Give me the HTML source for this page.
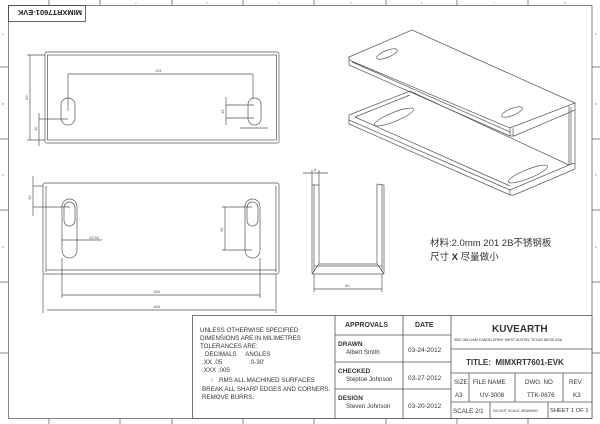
<!DOCTYPE html>
<html><head><meta charset="utf-8"><style>
html,body{margin:0;padding:0;background:#fff;}
svg{display:block;font-family:"Liberation Sans","Noto Sans CJK SC",sans-serif;}
</style></head><body>
<svg width="600" height="424" viewBox="0 0 600 424" xmlns="http://www.w3.org/2000/svg">
<rect x="0" y="0" width="600" height="424" fill="#fff"/>
<g stroke="#666" stroke-width="0.8" fill="none">
<rect x="8.5" y="5.5" width="583.5" height="413"/>
<line x1="49" y1="0" x2="49" y2="5"/><line x1="100" y1="0" x2="100" y2="5"/><line x1="172" y1="0" x2="172" y2="5"/><line x1="243" y1="0" x2="243" y2="5"/><line x1="314" y1="0" x2="314" y2="5"/><line x1="386" y1="0" x2="386" y2="5"/><line x1="457" y1="0" x2="457" y2="5"/><line x1="528" y1="0" x2="528" y2="5"/>
<line x1="49" y1="419" x2="49" y2="424"/><line x1="120" y1="419" x2="120" y2="424"/><line x1="172" y1="419" x2="172" y2="424"/><line x1="243" y1="419" x2="243" y2="424"/><line x1="314" y1="419" x2="314" y2="424"/><line x1="386" y1="419" x2="386" y2="424"/><line x1="457" y1="419" x2="457" y2="424"/><line x1="528" y1="419" x2="528" y2="424"/>
<line x1="0" y1="67" x2="8" y2="67"/><line x1="0" y1="139" x2="8" y2="139"/><line x1="0" y1="210" x2="8" y2="210"/><line x1="0" y1="282" x2="8" y2="282"/><line x1="0" y1="353" x2="8" y2="353"/>
<line x1="592" y1="67" x2="600" y2="67"/><line x1="592" y1="139" x2="600" y2="139"/><line x1="592" y1="210" x2="600" y2="210"/><line x1="592" y1="282" x2="600" y2="282"/><line x1="592" y1="353" x2="600" y2="353"/>
</g>
<g font-size="3" fill="#888">
<text x="48" y="4">1</text><text x="135" y="4">2</text><text x="206" y="4">3</text><text x="278" y="4">4</text><text x="350" y="4">5</text><text x="421" y="4">6</text><text x="493" y="4">7</text><text x="564" y="4">8</text>
<text x="2" y="35">A</text><text x="2" y="105">B</text><text x="2" y="176">C</text><text x="2" y="248">D</text>
<text x="595" y="35">A</text><text x="595" y="105">B</text><text x="595" y="176">C</text><text x="595" y="248">D</text>
</g>
<rect x="8.5" y="5.5" width="77" height="16" fill="none" stroke="#444" stroke-width="0.8"/>
<text transform="translate(82,10) rotate(180)" font-size="7.5" font-weight="bold" fill="#222">MIMXRT7601-EVK</text>

<g stroke="#555" stroke-width="0.7" fill="none">
<rect x="45" y="52" width="234" height="91" rx="2"/>
<rect x="47.5" y="55" width="229" height="85"/>
<rect x="61" y="98" width="14" height="27" rx="7"/>
<rect x="248" y="98" width="13" height="27" rx="6.5"/>
<line x1="68" y1="74" x2="253" y2="74"/><line x1="68" y1="74" x2="68" y2="111"/><line x1="253" y1="74" x2="253" y2="98"/>
<line x1="30" y1="55" x2="30" y2="140"/><line x1="27" y1="55" x2="45" y2="55"/><line x1="27" y1="140" x2="45" y2="140"/>
<line x1="39" y1="113" x2="39" y2="146"/><line x1="39" y1="119" x2="68" y2="119"/>
<line x1="226" y1="97" x2="226" y2="125"/><line x1="226" y1="105" x2="254" y2="105"/><line x1="226" y1="118" x2="254" y2="118"/>
<line x1="240" y1="128" x2="268" y2="128"/>
<rect x="43" y="183" width="236" height="91" rx="2"/>
<line x1="46" y1="186" x2="46" y2="272"/><line x1="276" y1="186" x2="276" y2="272"/><line x1="46" y1="270" x2="276" y2="270"/>
<rect x="62" y="199" width="15" height="59" rx="7.5"/>
<rect x="64" y="202" width="11" height="24" rx="5.5"/>
<rect x="245" y="199" width="15" height="59" rx="7.5"/>
<rect x="247" y="202" width="11" height="24" rx="5.5"/>
<line x1="62" y1="240" x2="102" y2="240"/>
<line x1="33" y1="176" x2="33" y2="216"/><line x1="33" y1="186" x2="43" y2="186"/><line x1="33" y1="207" x2="70" y2="207"/>
<line x1="225" y1="207" x2="225" y2="250"/><line x1="222" y1="207" x2="252" y2="207"/><line x1="222" y1="250" x2="252" y2="250"/>
<line x1="62" y1="258" x2="62" y2="298"/><line x1="260" y1="258" x2="260" y2="298"/>
<line x1="62" y1="295" x2="260" y2="295"/>
<line x1="43" y1="274" x2="43" y2="313"/><line x1="276" y1="274" x2="276" y2="313"/>
<line x1="47" y1="310" x2="275" y2="310"/>
<path d="M312,185 L312,272 Q312,274 314,274 L382,274 Q384,274 384,272 L384,185 L377,184 L377,264 L319,264 L319,185 Z"/>
<line x1="314" y1="185" x2="314" y2="272"/><line x1="382" y1="185" x2="382" y2="272"/>
<line x1="312" y1="274" x2="319" y2="264"/><line x1="384" y1="274" x2="377" y2="264"/>
<line x1="314" y1="266" x2="382" y2="266"/>
<line x1="303" y1="173" x2="328" y2="173"/><line x1="312" y1="170" x2="312" y2="185"/><line x1="319" y1="170" x2="319" y2="185"/>
<line x1="314" y1="289" x2="382" y2="289"/><line x1="314" y1="274" x2="314" y2="292"/><line x1="382" y1="274" x2="382" y2="292"/>
<polygon points="349,57 412,30 575,103 510,128 349,60"/>
<polyline points="349,57 349,65 510,136 510,128"/>
<polyline points="510,136 514,136 575,110 575,103"/>
<line x1="352" y1="62" x2="510" y2="132"/><line x1="513" y1="128" x2="513" y2="136"/>
<ellipse cx="387" cy="54" rx="11" ry="3.5" transform="rotate(-22 387 54)"/>
<ellipse cx="512" cy="112" rx="11" ry="3.5" transform="rotate(-22 512 112)"/>
<polyline points="569,106 569,165 575,163 575,110"/>
<line x1="571" y1="107" x2="571" y2="164"/>
<polygon points="349,115 410,91 569,165 510,190 349,120"/>
<polyline points="349,120 349,124 510,195 510,190"/>
<polyline points="510,195 514,195 575,169 575,163"/>
<line x1="355" y1="117" x2="410" y2="95"/><line x1="355" y1="117" x2="510" y2="186"/>
<ellipse cx="394" cy="117" rx="21" ry="4.5" transform="rotate(-22 394 117)"/>
<ellipse cx="528" cy="174" rx="21" ry="4.5" transform="rotate(-22 528 174)"/>
</g>
<g font-size="4" fill="#555">
<text x="155" y="72">131</text>
<text transform="translate(28,100) rotate(-90)">60</text>
<text transform="translate(37,131) rotate(-90)">10</text>
<text transform="translate(224,114) rotate(-90)">15</text>
<text x="89" y="239">13.50</text>
<text transform="translate(31,200) rotate(-90)">10</text>
<text transform="translate(223,232) rotate(-90)">36</text>
<text x="153" y="293">158</text>
<text x="153" y="308">168</text>
<text x="345" y="287">50</text>
<text x="314" y="171">6</text>
</g>
<text x="430" y="246" font-size="9.5" fill="#333">材料:2.0mm 201 2B不锈钢板</text>
<text x="430" y="260" font-size="9.5" fill="#333">尺寸 <tspan font-weight="bold">X</tspan> 尽量做小</text>

<g stroke="#555" stroke-width="0.8" fill="none">
<rect x="192.5" y="315.5" width="399.5" height="103" fill="#fff"/>
<line x1="335" y1="315" x2="335" y2="419"/>
<line x1="403" y1="315" x2="403" y2="419"/>
<line x1="451" y1="315" x2="451" y2="419"/>
<line x1="335" y1="335" x2="451" y2="335"/>
<line x1="335" y1="362" x2="451" y2="362"/>
<line x1="335" y1="389" x2="451" y2="389"/>
<line x1="451" y1="349" x2="592" y2="349"/>
<line x1="451" y1="373" x2="592" y2="373"/>
<line x1="451" y1="402" x2="592" y2="402"/>
<line x1="469" y1="373" x2="469" y2="402"/>
<line x1="515" y1="373" x2="515" y2="402"/>
<line x1="563" y1="373" x2="563" y2="402"/>
<line x1="490" y1="402" x2="490" y2="419"/>
<line x1="548" y1="402" x2="548" y2="419"/>
</g>
<g fill="#333" font-size="6.2">
<text x="200" y="332">UNLESS OTHERWISE SPECIFIED</text>
<text x="200" y="340">DIMENSIONS ARE IN  MILIMETRES</text>
<text x="200" y="348">TOLERANCES ARE:</text>
<text x="205" y="356">DECIMALS&#160;&#160;&#160;&#160;&#160;ANGLES</text>
<text x="202" y="364">.XX .05</text><text x="249" y="364">.0-30'</text>
<text x="202" y="372">.XXX .005</text>
<text x="210" y="382" fill="#aaa">√</text><text x="219" y="382">RMS ALL MACHINED SURFACES</text>
<text x="202" y="391">BREAK ALL SHARP EDGES AND CORNERS.</text>
<text x="202" y="399">REMOVE BURRS.</text>
<text x="345" y="327" font-weight="bold" font-size="7">APPROVALS</text>
<text x="415" y="327" font-weight="bold" font-size="7">DATE</text>
<text x="338" y="346" font-weight="bold" font-size="6.5">DRAWN</text><text x="346" y="354">Albert Smith</text>
<text x="408" y="352" font-size="6.5">03-24-2012</text>
<text x="338" y="373" font-weight="bold" font-size="6.5">CHECKED</text><text x="346" y="381">Steptoe Johnson</text>
<text x="408" y="380" font-size="6.5">03-27-2012</text>
<text x="338" y="400" font-weight="bold" font-size="6.5">DESIGN</text><text x="346" y="408">Steven Johnson</text>
<text x="408" y="408" font-size="6.5">03-20-2012</text>
<text x="492" y="332" font-weight="bold" font-size="10">KUVEARTH</text>
<text x="454" y="341" font-size="3.6">9501 WILLIAM CANON DRIVE WEST  AUSTIN, TEXAS 88735 USA</text>
<text x="466" y="365" font-weight="bold" font-size="8">TITLE:&#160;&#160;MIMXRT7601-EVK</text>
<text x="454" y="384">SIZE</text><text x="473" y="384">FILE NAME</text><text x="525" y="384">DWG. NO</text><text x="569" y="384">REV</text>
<text x="455" y="397">A3</text><text x="480" y="397">UV-3008</text><text x="527" y="397">TTK-0876</text><text x="573" y="397">K3</text>
<text x="453" y="413">SCALE 2/1</text>
<text x="493" y="412" font-size="3.6">DO NOT SCALE DRAWING</text>
<text x="550" y="412" font-size="5.8">SHEET 1 OF 1</text>
</g>
</svg>
</body></html>
